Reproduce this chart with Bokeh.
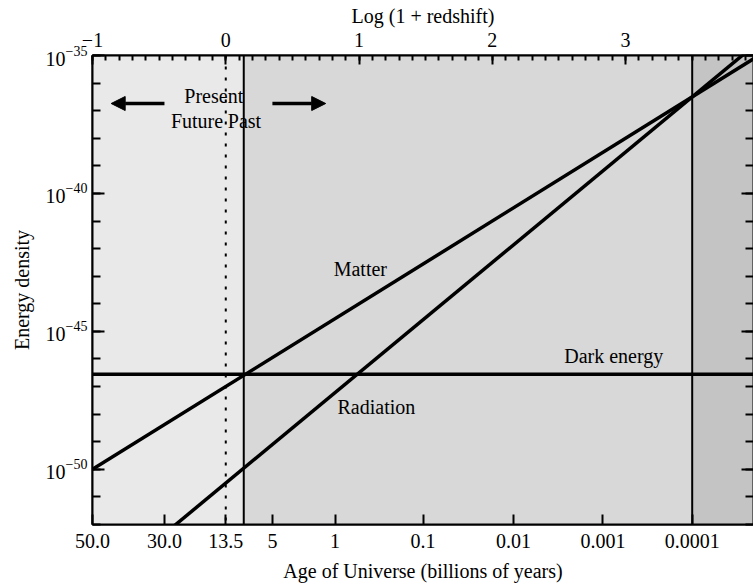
import numpy as np
from bokeh.plotting import figure
from bokeh.models import (Range1d, LogAxis, LinearAxis, FixedTicker, SingleIntervalTicker,
                          LogTickFormatter, CustomJSTickFormatter, Span,
                          Arrow, NormalHead, Label)
from bokeh.embed import file_html
from bokeh.resources import INLINE

# ---------------- data ----------------
log1pz_ends = [-1.0, 4.0]                 # x = log(1 + redshift)
matter_log_rho = [-50.0, -35.0]           # log10 energy density
radiation_log_rho = [-54.5, -34.5]
dark_energy_log_rho = [-46.55, -46.55]

era_edges = [-1.0, 0.135, 3.5, 3.96]
era_colors = ["#e9e9e9", "#d8d8d8", "#c4c4c4"]
present_x = 0.0
equality_x = [0.135, 3.5]

age_tick_pos = [-1.0, -0.46, 0.0, 0.35, 0.82, 1.48, 2.16, 2.83, 3.50]
age_tick_labels = ["50.0", "30.0", "13.5", "5", "1", "0.1", "0.01", "0.001", "0.0001"]
density_major_exp = [-50, -45, -40, -35]
density_minor_exp = list(range(-52, -34))
y_lo_exp, y_hi_exp = -52, -35

FONT = "Liberation Serif"
FS = "20px"

p = figure(width=753, height=587,
           x_range=Range1d(era_edges[0], era_edges[-1]),
           y_range=Range1d(10.0 ** y_lo_exp, 10.0 ** y_hi_exp),
           y_axis_type="log", output_backend="svg", toolbar_location=None,
           min_border_left=92, min_border_top=55, min_border_bottom=63, min_border_right=0)
p.grid.visible = False
p.background_fill_color = "white"
p.outline_line_color = "black"
p.outline_line_width = 2

# shaded eras
p.quad(left=era_edges[:-1], right=era_edges[1:],
       bottom=[10.0 ** y_lo_exp] * 3, top=[10.0 ** y_hi_exp] * 3,
       fill_color=era_colors, line_color=None, level="underlay")

# vertical markers
p.add_layout(Span(location=present_x, dimension="height", line_color="black",
                  line_width=2, line_dash="3 8", level="underlay"))
for xe in equality_x:
    p.add_layout(Span(location=xe, dimension="height", line_color="black",
                      line_width=2, level="underlay"))

# curves
p.line(log1pz_ends, [10.0 ** v for v in matter_log_rho], line_color="black", line_width=3.5)
p.line(log1pz_ends, [10.0 ** v for v in radiation_log_rho], line_color="black", line_width=3.5)
p.line(log1pz_ends, [10.0 ** v for v in dark_energy_log_rho], line_color="black", line_width=3.5)

def style_axis(ax, major_in, minor_in):
    ax.axis_line_color = "black"
    ax.axis_line_width = 2
    ax.major_tick_line_color = "black"
    ax.major_tick_line_width = 2
    ax.minor_tick_line_color = "black"
    ax.minor_tick_line_width = 2
    ax.major_tick_in = major_in
    ax.major_tick_out = 0
    ax.minor_tick_in = minor_in
    ax.minor_tick_out = 0
    ax.major_label_text_font = FONT
    ax.major_label_text_font_size = FS
    ax.major_label_text_color = "black"
    ax.axis_label_text_font = FONT
    ax.axis_label_text_font_size = FS
    ax.axis_label_text_font_style = "normal"
    ax.axis_label_text_color = "black"
    ax.level = "overlay"

# bottom axis: age
xb = p.xaxis[0]
xb.ticker = FixedTicker(ticks=age_tick_pos, minor_ticks=[])
xb.major_label_overrides = dict(zip(age_tick_pos, age_tick_labels))
xb.axis_label = "Age of Universe (billions of years)"
style_axis(xb, 10, 0)
xb.major_label_standoff = 9
xb.axis_label_standoff = 9

# top axis: log(1+z)
xt = LinearAxis(ticker=SingleIntervalTicker(interval=1, num_minor_ticks=10),
                axis_label="Log (1 + redshift)")
style_axis(xt, 9, 5)
xt.major_label_standoff = 9
xt.axis_label_standoff = 3
p.add_layout(xt, "above")

# left axis: energy density
yticker = FixedTicker(ticks=[10.0 ** e for e in density_major_exp],
                      minor_ticks=[10.0 ** e for e in density_minor_exp])
yl = p.yaxis[0]
yl.ticker = yticker
yl.formatter = LogTickFormatter()
yl.axis_label = "Energy density"
style_axis(yl, 12, 8)
yl.major_label_standoff = 5
yl.axis_label_standoff = 10

# right axis: ticks only
yr = LogAxis(ticker=yticker, formatter=CustomJSTickFormatter(code="return ''"))
style_axis(yr, 12, 8)
yr.major_label_standoff = 0
p.add_layout(yr, "right")

# arrows
p.add_layout(Arrow(end=NormalHead(size=14, fill_color="black", line_color="black"),
                   x_start=-0.46, y_start=10.0 ** -36.74, x_end=-0.86, y_end=10.0 ** -36.74,
                   line_width=3.5, line_color="black"))
p.add_layout(Arrow(end=NormalHead(size=14, fill_color="black", line_color="black"),
                   x_start=0.35, y_start=10.0 ** -36.74, x_end=0.75, y_end=10.0 ** -36.74,
                   line_width=3.5, line_color="black"))

def lab(x, ylog, text, align="center", baseline="middle"):
    p.add_layout(Label(x=x, y=10.0 ** ylog, text=text, text_font=FONT,
                       text_font_size=FS, text_align=align, text_baseline=baseline,
                       text_color="black"))

lab(-0.09, -36.45, "Present", baseline="alphabetic")
lab(-0.02, -37.36, "Future", align="right", baseline="alphabetic")
lab(0.015, -37.36, "Past", align="left", baseline="alphabetic")
lab(1.01, -42.75, "Matter")
lab(1.13, -47.75, "Radiation")
lab(2.54, -45.9, "Dark energy", align="left", baseline="alphabetic")

open("out.html", "w").write(file_html(p, INLINE))
